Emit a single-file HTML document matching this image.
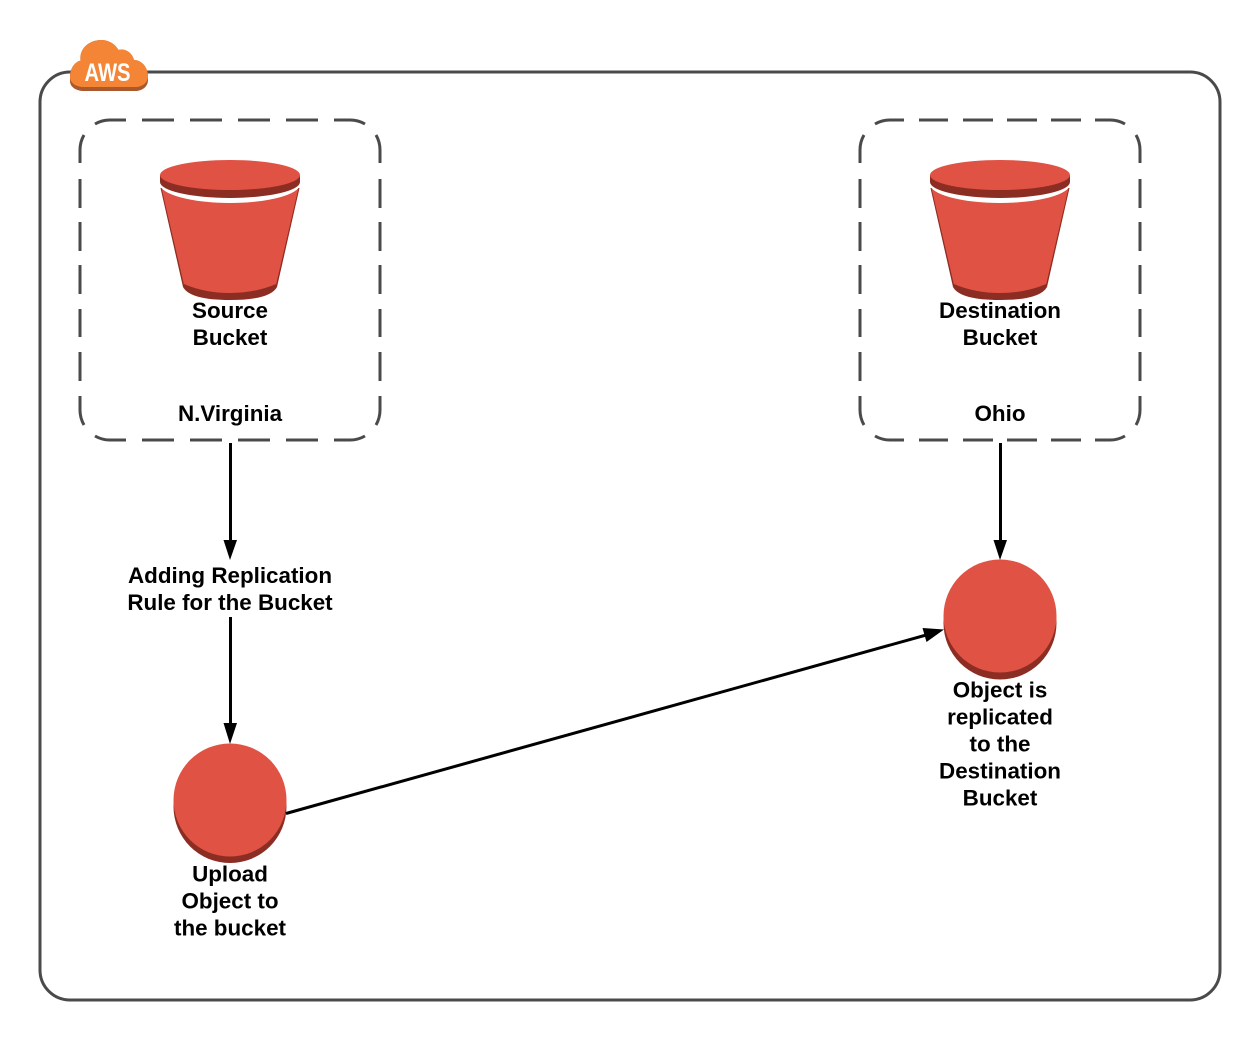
<!DOCTYPE html>
<html>
<head>
<meta charset="utf-8">
<style>
html,body{margin:0;padding:0;background:#fff;width:1260px;height:1040px;overflow:hidden}
svg{display:block}
text{font-family:"Liberation Sans",sans-serif;font-weight:bold;font-size:22.4px;fill:#000;text-anchor:middle}
</style>
</head>
<body>
<svg width="1260" height="1040" viewBox="0 0 1260 1040" xmlns="http://www.w3.org/2000/svg">
<defs>
<g id="bucket">
<path d="M160.500 188L183 287Q190 300 230 300Q270 300 277 287L299.500 188Z" fill="#8c2d23"/>
<path d="M161.500 188L183.800 284Q205 293 230 293Q255 293 276.200 284L298.500 188Z" fill="#e05243"/>
<ellipse cx="230" cy="184" rx="70" ry="19" fill="#fff"/>
<path d="M160 175V182A70 16 0 0 0 300 182V175Z" fill="#8c2d23"/>
<ellipse cx="230" cy="175" rx="70" ry="15" fill="#e05243"/>
</g>
</defs>

<rect x="40" y="72" width="1180" height="928" rx="30" ry="30" fill="#fff" stroke="#4a4a4a" stroke-width="3"/>

<path fill="none" stroke="#4a4a4a" stroke-width="3" d="
M95 124A30 30 0 0 1 110 120H126
M142 120H174M190 120H222M238 120H270M286 120H318
M334 120H350A30 30 0 0 1 365 124
M84 135A30 30 0 0 0 80 150V163
M376 135A30 30 0 0 1 380 150V163
M80 179V208M80 222V251M80 265V294M80 309V337M80 352V381
M380 179V208M380 222V251M380 265V294M380 309V337M380 352V381
M80 396V410A30 30 0 0 0 84 425
M380 396V410A30 30 0 0 1 376 425
M95 436A30 30 0 0 0 110 440H126
M142 440H174M190 440H222M238 440H270M286 440H318
M334 440H350A30 30 0 0 0 365 436"/>

<path fill="none" stroke="#4a4a4a" stroke-width="3" d="
M875 124A30 30 0 0 1 890 120H904
M919 120H948M963 120H993M1007 120H1037M1051 120H1081
M1095 120H1110A30 30 0 0 1 1125 124
M864 135A30 30 0 0 0 860 150V163
M1136 135A30 30 0 0 1 1140 150V163
M860 179V208M860 222V251M860 265V294M860 309V337M860 352V381
M1140 179V208M1140 222V251M1140 265V294M1140 309V337M1140 352V381
M860 396V410A30 30 0 0 0 864 425
M1140 396V410A30 30 0 0 1 1136 425
M875 436A30 30 0 0 0 890 440H904
M919 440H948M963 440H993M1007 440H1037M1051 440H1081
M1095 440H1110A30 30 0 0 0 1125 436"/>

<path d="M70 77C70 68 75 62 80.500 60.500C79 48 90 40 101 40C109 40 115 44 118.500 50C124 48 132 52 134 60C142 60 148 68 148 76V80C148 87 142 91 135 91H84C76 91 70 87 70 81Z" fill="#a9592b"/>
<path d="M70 77C70 68 75 62 80.500 60.500C79 48 90 40 101 40C109 40 115 44 118.500 50C124 48 132 52 134 60C142 60 148 68 148 76C148 83 142 87 135 87H84C76 87 70 83 70 77Z" fill="#f58536"/>
<text x="107.500" y="81" style="fill:#fff;font-size:25px;font-weight:bold" textLength="46" lengthAdjust="spacingAndGlyphs">AWS</text>

<use href="#bucket"/>
<use href="#bucket" x="770"/>

<text x="230" y="318">Source</text>
<text x="230" y="345">Bucket</text>
<text x="230" y="421">N.Virginia</text>
<text x="1000" y="318">Destination</text>
<text x="1000" y="345">Bucket</text>
<text x="1000" y="421">Ohio</text>

<line x1="230.500" y1="443" x2="230.500" y2="545" stroke="#000" stroke-width="3"/>
<path d="M223.500 540H237L230 560Z" fill="#000"/>
<text x="230" y="583">Adding Replication</text>
<text x="230" y="610">Rule for the Bucket</text>
<line x1="230.500" y1="617" x2="230.500" y2="728" stroke="#000" stroke-width="3"/>
<path d="M223.500 723H237L230 744Z" fill="#000"/>

<line x1="1000.500" y1="443" x2="1000.500" y2="545" stroke="#000" stroke-width="3"/>
<path d="M993.500 540H1007L1000 560Z" fill="#000"/>

<circle cx="230" cy="806.500" r="56.500" fill="#8c2d23"/>
<circle cx="230" cy="800" r="56.500" fill="#e05243"/>
<circle cx="1000" cy="623" r="56.500" fill="#8c2d23"/>
<circle cx="1000" cy="616" r="56.500" fill="#e05243"/>

<line x1="286" y1="813.500" x2="928" y2="634.500" stroke="#000" stroke-width="3"/>
<path d="M922.500 628L926.500 642L944 629.500Z" fill="#000"/>

<text x="230" y="881.500">Upload</text>
<text x="230" y="908.500">Object to</text>
<text x="230" y="935.500">the bucket</text>

<text x="1000" y="697.500">Object is</text>
<text x="1000" y="724.500">replicated</text>
<text x="1000" y="751.500">to the</text>
<text x="1000" y="778.500">Destination</text>
<text x="1000" y="805.500">Bucket</text>
</svg>
</body>
</html>
